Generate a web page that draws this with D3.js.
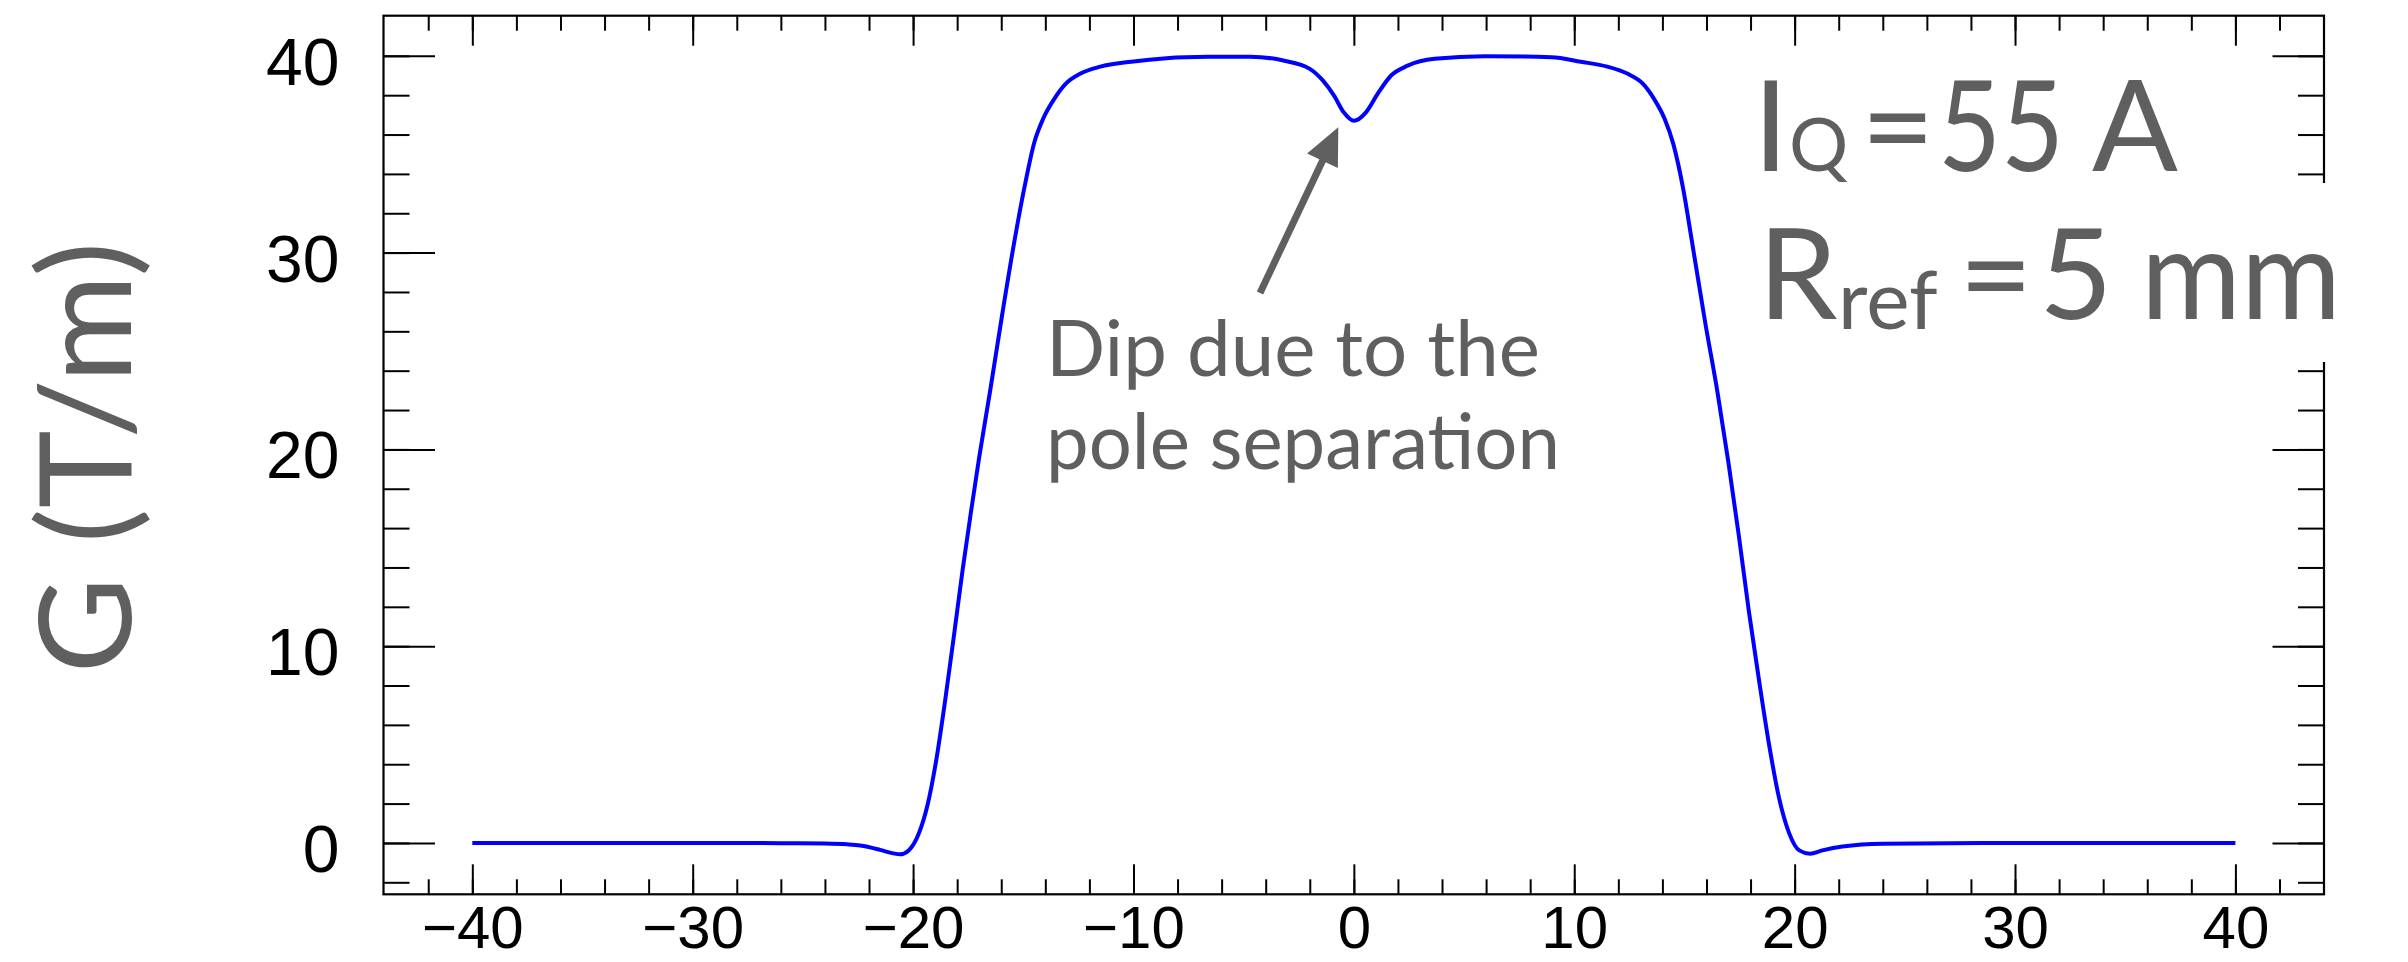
<!DOCTYPE html>
<html>
<head>
<meta charset="utf-8">
<script src="https://d3js.org/d3.v7.min.js"></script>
<style>
  body { margin: 0; background: #fff; }
  svg { display: block; }
</style>
</head>
<body>
<div id="chart"></div>
<script>
// gradient profile along the magnet axis
const zPositions = [-40, -35, -30, -26, -24, -23, -22.4, -21.5, -20.9, -20.6, -20.2, -19.75, -19.35,
  -18.95, -18.55, -18.15, -17.75, -17.35, -17.0, -16.5, -15.95, -15.4, -14.95, -14.5, -14.1, -13.6,
  -13.1, -12.4, -11.5, -10.1, -8.5, -6.6, -4.7, -3.2, -2.0, -1.4, -0.9, -0.46, 0, 0.55, 1.08, 1.69,
  2.44, 3.66, 5.93, 8.97, 10.3, 11.5, 12.4, 13.1, 13.6, 14.1, 14.5, 14.95, 15.35, 15.95, 16.5, 17.0,
  17.47, 17.92, 18.38, 18.84, 19.29, 19.75, 20.21, 20.7, 21.26, 22.17, 24.0, 30, 35, 40];
const gradient = [0, 0, 0, -0.01, -0.03, -0.07, -0.13, -0.35, -0.53, -0.58, -0.38, 0.45, 1.9,
  4.2, 7.2, 10.5, 13.9, 17.0, 19.6, 23.0, 26.9, 30.6, 33.3, 35.6, 36.8, 37.8,
  38.55, 39.1, 39.45, 39.7, 39.88, 39.95, 39.96, 39.76, 39.34, 38.74, 37.98, 37.13, 36.7, 37.13, 38.07, 39.0,
  39.5, 39.85, 39.98, 39.93, 39.7, 39.45, 39.1, 38.6, 37.85, 36.8, 35.5, 33.2, 30.5, 26.4, 22.9, 19.3,
  15.6, 11.8, 8.3, 5.0, 2.3, 0.5, -0.38, -0.55, -0.38, -0.18, -0.04, 0, 0, 0];

const xMajorTicks = [-40, -30, -20, -10, 0, 10, 20, 30, 40];
const xMinorTicks = d3.range(-42, 43, 2);
const yMajorTicks = [0, 10, 20, 30, 40];
const yMinorTicks = d3.range(-2, 42, 2);

const yTitle = "G (T/m)";
const noteLines = ["Dip due to the", "pole separation"];

const width = 2408, height = 962;
const frame = { left: 383.5, right: 2324, top: 15.7, bottom: 894.3 };
const grey = "#5f5f5f";

const svg = d3.select("#chart").append("svg")
  .attr("width", width)
  .attr("height", height)
  .style("background", "#fff");

// scales
const x = d3.scaleLinear().domain([-44.03, 44.02]).range([frame.left, frame.right]);
const y = d3.scaleLinear().domain([-2.61, 42.04]).range([frame.bottom, frame.top]);

const tickFont = "'Liberation Sans', Arial, Helvetica, sans-serif";
const textFont = "Lato, 'Open Sans', sans-serif";

// bottom axis, ticks pointing inside
const xAxis = svg.append("g")
  .attr("transform", `translate(0,${frame.bottom})`)
  .call(d3.axisBottom(x).tickValues(xMajorTicks).tickSizeInner(-30).tickSizeOuter(0));
xAxis.selectAll("text")
  .attr("y", 54).attr("dy", null)
  .style("font-family", tickFont).style("font-size", "60px").attr("fill", "#000");

svg.append("g")
  .attr("transform", `translate(0,${frame.bottom})`)
  .call(d3.axisBottom(x).tickValues(xMinorTicks).tickSizeInner(-15).tickSizeOuter(0).tickFormat(""));

// top axis (ticks only)
svg.append("g")
  .attr("transform", `translate(0,${frame.top})`)
  .call(d3.axisTop(x).tickValues(xMajorTicks).tickSizeInner(-30).tickSizeOuter(0).tickFormat(""));
svg.append("g")
  .attr("transform", `translate(0,${frame.top})`)
  .call(d3.axisTop(x).tickValues(xMinorTicks).tickSizeInner(-15).tickSizeOuter(0).tickFormat(""));

// left axis
const yAxis = svg.append("g")
  .attr("transform", `translate(${frame.left},0)`)
  .call(d3.axisLeft(y).tickValues(yMajorTicks).tickSizeInner(-51.5).tickSizeOuter(0));
yAxis.selectAll("text")
  .attr("x", -44).attr("y", 28.5).attr("dy", null)
  .style("font-family", tickFont).style("font-size", "66px").attr("fill", "#000");

svg.append("g")
  .attr("transform", `translate(${frame.left},0)`)
  .call(d3.axisLeft(y).tickValues(yMinorTicks).tickSizeInner(-26).tickSizeOuter(0).tickFormat(""));

// right axis (ticks only)
svg.append("g")
  .attr("transform", `translate(${frame.right},0)`)
  .call(d3.axisRight(y).tickValues(yMajorTicks).tickSizeInner(-51.5).tickSizeOuter(0).tickFormat(""));
svg.append("g")
  .attr("transform", `translate(${frame.right},0)`)
  .call(d3.axisRight(y).tickValues(yMinorTicks).tickSizeInner(-26).tickSizeOuter(0).tickFormat(""));

svg.selectAll(".domain").remove();
svg.selectAll(".tick line").attr("stroke", "#000").attr("stroke-width", 2);

// frame
svg.append("rect")
  .attr("x", frame.left).attr("y", frame.top)
  .attr("width", frame.right - frame.left).attr("height", frame.bottom - frame.top)
  .attr("fill", "none").attr("stroke", "#000").attr("stroke-width", 2.2);

// curve
const points = zPositions.map((z, i) => ({ z, g: gradient[i] }));
const line = d3.line()
  .x(d => x(d.z))
  .y(d => y(d.g))
  .curve(d3.curveMonotoneX);

svg.append("path")
  .datum(points)
  .attr("d", line)
  .attr("fill", "none")
  .attr("stroke", "#0000ff")
  .attr("stroke-width", 4)
  .attr("stroke-linejoin", "round");

// y title
svg.append("text")
  .attr("transform", "translate(131,457.5) rotate(-90)")
  .attr("text-anchor", "middle")
  .attr("textLength", 432)
  .attr("lengthAdjust", "spacingAndGlyphs")
  .style("font-family", textFont)
  .style("font-size", "128px")
  .attr("fill", grey)
  .text(yTitle);

// arrow annotation
const tail = [1260, 293], tip = [1338.3, 127.3];
const dx = tip[0] - tail[0], dy = tip[1] - tail[1];
const len = Math.hypot(dx, dy);
const ux = dx / len, uy = dy / len;
const headLen = 37, headHalf = 17;
const base = [tip[0] - ux * headLen, tip[1] - uy * headLen];

svg.append("line")
  .attr("x1", tail[0]).attr("y1", tail[1])
  .attr("x2", base[0] + ux * 4).attr("y2", base[1] + uy * 4)
  .attr("stroke", grey).attr("stroke-width", 7);

svg.append("path")
  .attr("d", `M${tip[0]},${tip[1]} L${base[0] - uy * headHalf},${base[1] + ux * headHalf} L${base[0] + uy * headHalf},${base[1] - ux * headHalf} Z`)
  .attr("fill", grey);

svg.selectAll("text.note")
  .data(noteLines)
  .enter()
  .append("text")
  .attr("class", "note")
  .attr("x", 1046)
  .attr("y", (d, i) => 375.7 + i * 93.3)
  .attr("textLength", (d, i) => i === 0 ? 494 : 514)
  .attr("lengthAdjust", "spacingAndGlyphs")
  .style("font-family", textFont)
  .style("font-size", "78px")
  .attr("fill", grey)
  .text(d => d);

// white pave behind the second label line
svg.append("rect")
  .attr("x", 1745).attr("y", 183)
  .attr("width", 600).attr("height", 179)
  .attr("fill", "#fff");

// IQ = 55 A
const l1 = svg.append("text")
  .attr("y", 171)
  .style("font-family", textFont)
  .attr("fill", grey);
l1.append("tspan").attr("x", 1753).style("font-size", "127px").text("I");
l1.append("tspan").attr("x", 1789).style("font-size", "74px").text("Q");
l1.append("tspan").attr("x", 1861).style("font-size", "127px").text("=");
l1.append("tspan").attr("x", 1938).attr("textLength", 126).attr("lengthAdjust", "spacingAndGlyphs")
  .style("font-size", "127px").text("55");
l1.append("tspan").attr("x", 2092).style("font-size", "127px").text("A");

// Rref = 5 mm
const l2 = svg.append("text")
  .style("font-family", textFont)
  .attr("fill", grey);
l2.append("tspan").attr("x", 1758).attr("y", 319).style("font-size", "127px").text("R");
l2.append("tspan").attr("x", 1838).attr("y", 329).style("font-size", "82px").text("ref");
l2.append("tspan").attr("x", 1959).attr("y", 319).style("font-size", "127px").text("=");
l2.append("tspan").attr("x", 2039).attr("y", 319).style("font-size", "127px").text("5");
l2.append("tspan").attr("x", 2141).attr("y", 319).attr("textLength", 200).attr("lengthAdjust", "spacingAndGlyphs")
  .style("font-size", "127px").text("mm");
</script>
</body>
</html>
